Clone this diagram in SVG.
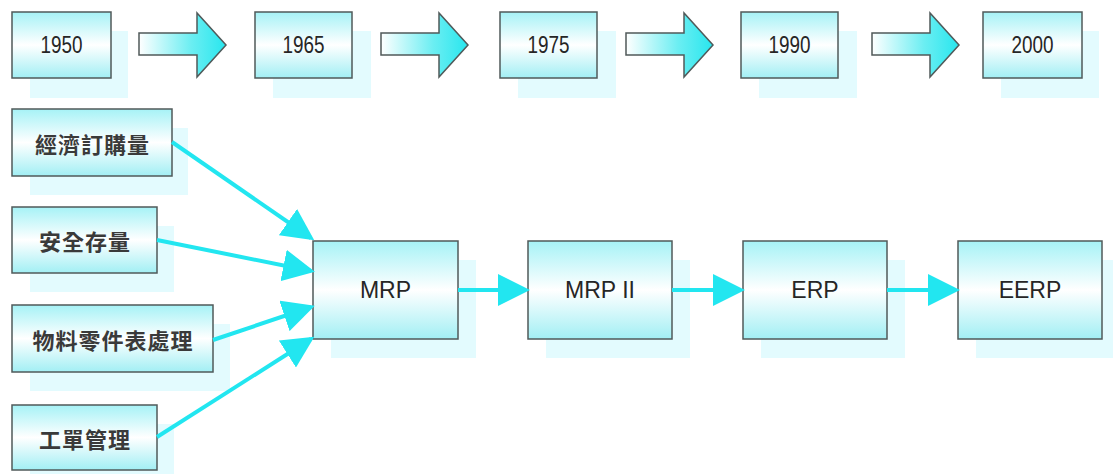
<svg xmlns="http://www.w3.org/2000/svg" width="1113" height="474" viewBox="0 0 1113 474">
<defs>
<linearGradient id="boxg" x1="0" y1="0" x2="0" y2="1">
<stop offset="0" stop-color="#a6f2f6"/>
<stop offset="0.5" stop-color="#ffffff"/>
<stop offset="1" stop-color="#a2eff4"/>
</linearGradient>
<linearGradient id="arrg" x1="0" y1="0" x2="1" y2="0">
<stop offset="0" stop-color="#ffffff"/>
<stop offset="0.6" stop-color="#6beef2"/>
<stop offset="1" stop-color="#28e6ee"/>
</linearGradient>
<marker id="ah" markerWidth="8" markerHeight="8" refX="7" refY="4" orient="auto" markerUnits="strokeWidth" viewBox="0 0 8 8">
<path d="M0,0 L8,4 L0,8 Z" fill="#22e6f0"/>
</marker>
</defs>
<style>
.sh{fill:#e3fbfe}
.bx{fill:url(#boxg);stroke:#505a5a;stroke-width:1.5}
.ar{fill:url(#arrg);stroke:#505a5a;stroke-width:1.5}
.t{font-family:"Liberation Sans",Arial,sans-serif;fill:#262626;text-anchor:middle;dominant-baseline:central}
.y{font-size:23px}
.c{font-family:"Noto Sans CJK TC","Liberation Sans",sans-serif;font-size:22px;font-weight:bold;fill:#3a3a3a;text-anchor:middle;dominant-baseline:central;letter-spacing:1px}
.m{font-size:23px}
.cn{fill:none;stroke:#22e6f0;stroke-width:4;marker-end:url(#ah)}
</style>
<g id="y1950"><rect class="sh" x="30" y="31" width="98" height="67"/><rect class="bx" x="12" y="12" width="99" height="66"/><text class="t y" x="61.5" y="45" textLength="42" lengthAdjust="spacingAndGlyphs">1950</text></g>
<g id="y1965"><rect class="sh" x="273" y="31" width="98" height="67"/><rect class="bx" x="255" y="12" width="97" height="66"/><text class="t y" x="303.5" y="45" textLength="42" lengthAdjust="spacingAndGlyphs">1965</text></g>
<g id="y1975"><rect class="sh" x="518" y="31" width="98" height="67"/><rect class="bx" x="500" y="12" width="97" height="66"/><text class="t y" x="548.5" y="45" textLength="42" lengthAdjust="spacingAndGlyphs">1975</text></g>
<g id="y1990"><rect class="sh" x="759" y="31" width="98" height="67"/><rect class="bx" x="741" y="12" width="97" height="66"/><text class="t y" x="789.5" y="45" textLength="42" lengthAdjust="spacingAndGlyphs">1990</text></g>
<g id="y2000"><rect class="sh" x="1001" y="31" width="98" height="67"/><rect class="bx" x="983" y="12" width="99" height="66"/><text class="t y" x="1032.5" y="45" textLength="42" lengthAdjust="spacingAndGlyphs">2000</text></g>
<g id="bigarrows">
<path class="ar" d="M139,33 H197 V13 L226,45 L197,77 V55 H139 Z"/>
<path class="ar" d="M381,33 H439 V13 L468,45 L439,77 V55 H381 Z"/>
<path class="ar" d="M626,33 H684 V13 L713,45 L684,77 V55 H626 Z"/>
<path class="ar" d="M872,33 H930 V13 L959,45 L930,77 V55 H872 Z"/>
</g>
<g id="eoq"><rect class="sh" x="30" y="128" width="158" height="67"/><rect class="bx" x="12" y="109" width="160" height="67"/><text class="c" x="92.5" y="142.5">經濟訂購量</text></g>
<g id="safety"><rect class="sh" x="30" y="226" width="144" height="66"/><rect class="bx" x="12" y="207" width="145" height="66"/><text class="c" x="85" y="240">安全存量</text></g>
<g id="bom"><rect class="sh" x="30" y="324" width="200" height="67"/><rect class="bx" x="12" y="305" width="201" height="67"/><text class="c" x="113" y="338.5">物料零件表處理</text></g>
<g id="wo"><rect class="sh" x="30" y="424" width="144" height="50"/><rect class="bx" x="12" y="405" width="145" height="65"/><text class="c" x="85" y="437.5">工單管理</text></g>
<g id="mrp"><rect class="sh" x="331" y="260" width="145" height="98"/><rect class="bx" x="313" y="241" width="145" height="98"/><text class="t m" x="385.5" y="290">MRP</text></g>
<g id="mrp2"><rect class="sh" x="546" y="260" width="144" height="98"/><rect class="bx" x="528" y="241" width="144" height="98"/><text class="t m" x="600" y="290">MRP II</text></g>
<g id="erp"><rect class="sh" x="761" y="260" width="144" height="98"/><rect class="bx" x="743" y="241" width="144" height="98"/><text class="t m" x="815" y="290">ERP</text></g>
<g id="eerp"><rect class="sh" x="976" y="260" width="137" height="98"/><rect class="bx" x="958" y="241" width="144" height="98"/><text class="t m" x="1030" y="290">EERP</text></g>
<g id="connectors">
<line class="cn" x1="172" y1="142" x2="311" y2="238"/>
<line class="cn" x1="157" y1="240" x2="311" y2="271"/>
<line class="cn" x1="213" y1="340" x2="311" y2="307"/>
<line class="cn" x1="157" y1="437" x2="311" y2="339"/>
<line class="cn" x1="458" y1="290" x2="526" y2="290"/>
<line class="cn" x1="672" y1="290" x2="741" y2="290"/>
<line class="cn" x1="887" y1="290" x2="956" y2="290"/>
</g>
</svg>
